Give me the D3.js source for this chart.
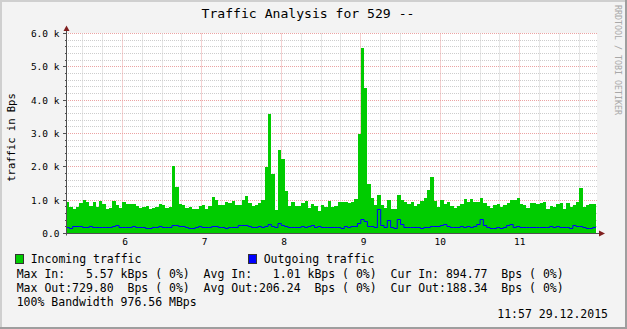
<!DOCTYPE html>
<html>
<head>
<meta charset="utf-8">
<script src="https://cdn.jsdelivr.net/npm/d3@7"></script>
<style>
  body { margin: 0; background: #f3f3f3; }
  svg text { font-family: "DejaVu Sans Mono", monospace; white-space: pre; }
</style>
</head>
<body>
<svg id="chart"></svg>
<script>
// hourly samples, starting 05 07:00
var startTime = new Date(2015, 11, 5, 7);

var dayLabels = [" 6", " 7", " 8", " 9", "10", "11"];
var yTickValues = [0, 1000, 2000, 3000, 4000, 5000, 6000];
var yTickLabels = ["0.0", "1.0 k", "2.0 k", "3.0 k", "4.0 k", "5.0 k", "6.0 k"];

var incoming = [
  940, 790, 730, 800, 920, 1000, 940, 820, 940, 800, 970, 880, 750, 760, 970, 850,
  770, 940, 880, 880, 880, 820, 780, 800, 820, 750, 770, 800, 880, 850, 770, 800,
  2040, 1410, 880, 850, 770, 800, 730, 730,
  820, 850, 730, 820, 1090, 1000, 850, 850, 940, 910, 970, 850, 850, 1000, 1120, 910, 820, 850, 910, 1000,
  2010, 3600, 1790, 700, 2520, 2250, 1270,
  820, 940, 820, 820, 910, 970, 760, 880, 820, 670, 850, 790, 970,
  790, 820, 940, 940, 940, 910, 940, 1030,
  3000, 5570, 4370, 1480,
  1060, 850, 1150, 850, 760, 1000, 730, 730, 1150, 1000, 940, 880, 940, 820, 880,
  970, 1060, 1300, 1690, 970, 790, 1000, 880, 940, 820, 760, 820, 880, 1030,
  940, 1030, 940, 940, 1060, 910, 820, 760, 850, 880, 790, 850, 910, 1000, 1000,
  1060, 900, 850, 760, 910, 910, 880, 910, 940, 730, 820, 790, 880, 910, 730,
  910, 790, 850, 940, 1360, 790, 850, 880, 895
];

var outgoing = [
  185, 150, 215, 215, 215, 185, 185, 215, 185, 185, 185, 185, 185, 185, 215, 245,
  185, 185, 185, 185, 215, 185, 185, 185, 150, 150, 185, 185, 215, 185, 185, 185,
  245, 245, 215, 215, 185, 150, 150, 185, 215,
  185, 185, 185, 215, 215, 185, 185, 150, 185, 185, 185, 245, 245, 245, 215,
  185, 185, 215, 185, 215, 275, 215, 185, 305, 245, 215, 185, 185, 185, 185,
  215, 185, 215, 245, 185, 215, 185, 185, 185,
  185, 185, 185, 150, 215, 185, 215, 215, 305, 425, 365, 215, 215, 185, 730,
  245, 185, 395, 185, 150, 425, 275, 185, 185, 185, 185, 185, 150, 185, 185,
  215, 215, 215, 245, 275, 215, 185, 185, 185, 215, 185,
  215, 185, 215, 275, 425, 245, 185, 150, 150, 185, 150, 185, 245, 275, 185,
  215, 185, 185, 185, 185, 185, 185, 185, 185, 185, 215, 185, 215, 185, 185,
  185, 150, 245, 215, 215, 185, 150, 150, 188
];

var legendSeries = ["Incoming traffic", "Outgoing traffic"];
var legendColors = ["#00cc00", "#0000ff"];
var legendStats = [
  "Max In:   5.57 kBps ( 0%)  Avg In:   1.01 kBps ( 0%)  Cur In: 894.77  Bps ( 0%)",
  "Max Out:729.80  Bps ( 0%)  Avg Out:206.24  Bps ( 0%)  Cur Out:188.34  Bps ( 0%)",
  "100% Bandwidth 976.56 MBps"
];
var stamp = "11:57 29.12.2015";

var W = 627, H = 329;
var plot = { left: 66, right: 596, top: 33.5, bottom: 233.5 };

var svg = d3.select("#chart").attr("width", W).attr("height", H);

// background + 3d frame
svg.append("rect").attr("width", W).attr("height", H).attr("fill", "#f3f3f3");
svg.append("rect").attr("x", 0).attr("y", 0).attr("width", W).attr("height", 2).attr("fill", "#cfcfcf");
svg.append("rect").attr("x", 0).attr("y", 0).attr("width", 2).attr("height", H).attr("fill", "#cfcfcf");
svg.append("rect").attr("x", 0).attr("y", H - 2).attr("width", W).attr("height", 2).attr("fill", "#9e9e9e");
svg.append("rect").attr("x", W - 2).attr("y", 0).attr("width", 2).attr("height", H).attr("fill", "#9e9e9e");

var hourAt = function (i) { return d3.timeHour.offset(startTime, i); };
var endTime = hourAt(incoming.length);

var x = d3.scaleTime().domain([startTime, endTime]).range([plot.left, plot.right]);
var y = d3.scaleLinear().domain([0, 6000]).range([plot.bottom, plot.top]);

var crisp = function (v) { return Math.round(v - 0.5) + 0.5; };

// canvas
svg.append("rect")
  .attr("x", plot.left)
  .attr("y", plot.top - 0.5)
  .attr("width", plot.right - plot.left + 1)
  .attr("height", plot.bottom - plot.top + 0.5)
  .attr("fill", "#ffffff");

var grid = svg.append("g");

// horizontal grid
var yMinor = d3.range(0, 6001, 200).filter(function (v) { return v % 1000 !== 0; });
grid.selectAll("line.hmin")
  .data(yMinor)
  .enter()
  .append("line")
  .attr("x1", plot.left)
  .attr("x2", plot.right + 1)
  .attr("y1", function (d) { return crisp(y(d)); })
  .attr("y2", function (d) { return crisp(y(d)); })
  .attr("stroke", "#cdcdcd")
  .attr("stroke-dasharray", "1,1");

grid.selectAll("line.hmaj")
  .data(yTickValues.slice(1))
  .enter()
  .append("line")
  .attr("x1", plot.left)
  .attr("x2", plot.right + 1)
  .attr("y1", function (d) { return crisp(y(d)); })
  .attr("y2", function (d) { return crisp(y(d)); })
  .attr("stroke", "#eba3a3")
  .attr("stroke-dasharray", "1,1");

// vertical grid
var days = d3.timeDay.range(d3.timeDay.ceil(startTime), endTime);
var sixHours = d3.timeHour.every(6).range(startTime, endTime).filter(function (t) {
  return t.getHours() !== 0;
});

grid.selectAll("line.vmin")
  .data(sixHours)
  .enter()
  .append("line")
  .attr("x1", function (d) { return crisp(x(d)); })
  .attr("x2", function (d) { return crisp(x(d)); })
  .attr("y1", plot.top)
  .attr("y2", plot.bottom)
  .attr("stroke", "#cdcdcd")
  .attr("stroke-dasharray", "1,1");

grid.selectAll("line.vmaj")
  .data(days)
  .enter()
  .append("line")
  .attr("x1", function (d) { return crisp(x(d)); })
  .attr("x2", function (d) { return crisp(x(d)); })
  .attr("y1", plot.top)
  .attr("y2", plot.bottom)
  .attr("stroke", "#eba3a3")
  .attr("stroke-dasharray", "1,1");

// data
var inPts = incoming.map(function (v, i) { return { t: hourAt(i), v: v }; });
inPts.push({ t: endTime, v: incoming[incoming.length - 1] });
var outPts = outgoing.map(function (v, i) { return { t: hourAt(i), v: v }; });
outPts.push({ t: endTime, v: outgoing[outgoing.length - 1] });

var area = d3.area()
  .curve(d3.curveStepAfter)
  .x(function (d) { return x(d.t); })
  .y0(y(0))
  .y1(function (d) { return Math.round(y(d.v)); });

var line = d3.line()
  .curve(d3.curveStepAfter)
  .x(function (d) { return x(d.t); })
  .y(function (d) { return crisp(y(d.v)); });

svg.append("path")
  .datum(inPts)
  .attr("d", area)
  .attr("fill", "#00cc00")
  .attr("shape-rendering", "crispEdges");

svg.append("path")
  .datum(outPts)
  .attr("d", line)
  .attr("fill", "none")
  .attr("stroke", "#0000ff")
  .attr("stroke-width", 1);

// axes
var axisColor = "#505050";
var arrowColor = "#801f1f";

svg.selectAll("line.ytick")
  .data(yTickValues)
  .enter()
  .append("line")
  .attr("x1", plot.left - 3)
  .attr("x2", plot.left)
  .attr("y1", function (d) { return crisp(y(d)); })
  .attr("y2", function (d) { return crisp(y(d)); })
  .attr("stroke", axisColor);

svg.selectAll("line.ymtick")
  .data(yMinor)
  .enter()
  .append("line")
  .attr("x1", plot.left - 1)
  .attr("x2", plot.left)
  .attr("y1", function (d) { return crisp(y(d)); })
  .attr("y2", function (d) { return crisp(y(d)); })
  .attr("stroke", axisColor);

svg.append("line")
  .attr("x1", plot.left + 0.5).attr("x2", plot.left + 0.5)
  .attr("y1", plot.bottom + 2).attr("y2", plot.top - 5)
  .attr("stroke", axisColor);

svg.append("line")
  .attr("x1", plot.left - 3).attr("x2", plot.right + 4)
  .attr("y1", plot.bottom).attr("y2", plot.bottom)
  .attr("stroke", axisColor);

svg.append("path")
  .attr("d", "M" + (plot.left - 2.5) + "," + (plot.top - 2.5) +
    "L" + (plot.left + 3.5) + "," + (plot.top - 2.5) +
    "L" + (plot.left + 0.5) + "," + (plot.top - 8) + "Z")
  .attr("fill", arrowColor);

svg.append("path")
  .attr("d", "M" + (plot.right + 3) + "," + (plot.bottom - 3) +
    "L" + (plot.right + 3) + "," + (plot.bottom + 3) +
    "L" + (plot.right + 9) + "," + plot.bottom + "Z")
  .attr("fill", arrowColor);

// tick labels
svg.selectAll("text.ylab")
  .data(yTickValues)
  .enter()
  .append("text")
  .attr("x", 59.5)
  .attr("y", function (d) { return y(d) + 3.6; })
  .attr("text-anchor", "end")
  .attr("font-size", "9.5px")
  .attr("fill", "#000")
  .text(function (d, i) { return yTickLabels[i]; });

svg.selectAll("text.xlab")
  .data(days)
  .enter()
  .append("text")
  .attr("x", function (d) { return x(d); })
  .attr("y", 245)
  .attr("text-anchor", "middle")
  .attr("font-size", "9.5px")
  .attr("fill", "#000")
  .text(function (d, i) { return dayLabels[i]; });

// titles
svg.append("text")
  .attr("x", 308)
  .attr("y", 18)
  .attr("text-anchor", "middle")
  .attr("font-size", "13.1px")
  .attr("fill", "#000")
  .text("Traffic Analysis for 529 --");

svg.append("text")
  .attr("transform", "translate(15,137.5) rotate(-90)")
  .attr("text-anchor", "middle")
  .attr("font-size", "10.5px")
  .attr("fill", "#000")
  .text("traffic in Bps");

svg.append("text")
  .attr("transform", "translate(615,5) rotate(90)")
  .attr("font-size", "8.3px")
  .attr("fill", "#a8a8a8")
  .text("RRDTOOL / TOBI OETIKER");

// legend
var legend = svg.selectAll("g.leg")
  .data(legendSeries)
  .enter()
  .append("g")
  .attr("transform", function (d, i) { return "translate(" + (i === 0 ? 15 : 248) + ",254)"; });

legend.append("rect")
  .attr("x", 0.5).attr("y", 0.5)
  .attr("width", 8).attr("height", 9)
  .attr("fill", function (d, i) { return legendColors[i]; })
  .attr("stroke", "#333");

legend.append("text")
  .attr("x", 15.7)
  .attr("y", 9)
  .attr("font-size", "11.5px")
  .attr("fill", "#000")
  .text(function (d) { return d; });

svg.selectAll("text.stat")
  .data(legendStats)
  .enter()
  .append("text")
  .attr("x", 16.7)
  .attr("y", function (d, i) { return 277.5 + i * 14; })
  .attr("font-size", "11.5px")
  .attr("fill", "#000")
  .text(function (d) { return d; });

svg.append("text")
  .attr("x", 608)
  .attr("y", 317.5)
  .attr("text-anchor", "end")
  .attr("font-size", "11.5px")
  .attr("fill", "#000")
  .text(stamp);
</script>
</body>
</html>
